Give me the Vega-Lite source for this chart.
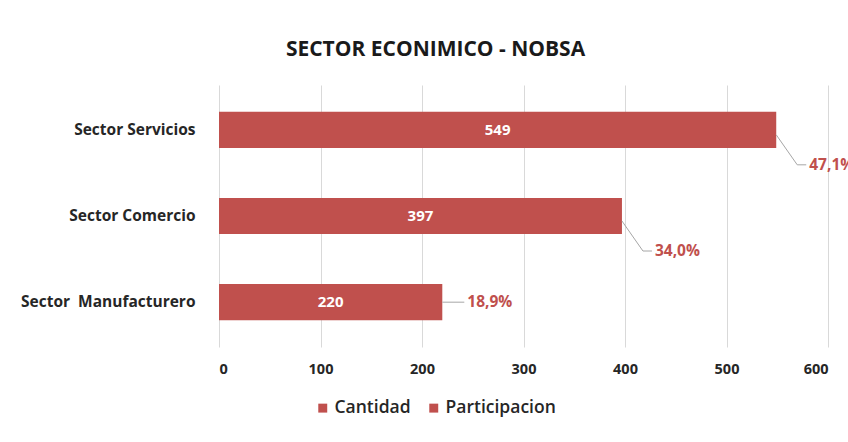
{
  "$schema": "https://vega.github.io/schema/vega-lite/v6.json",
  "width": 609,
  "height": 262,
  "autosize": "none",
  "padding": {"left": 219, "top": 85, "right": 20, "bottom": 95},
  "background": "white",
  "title": {
    "text": "SECTOR ECONIMICO - NOBSA",
    "font": "Open Sans",
    "fontSize": 21,
    "fontWeight": "bold",
    "color": "#1a1a1a",
    "dx": -88,
    "offset": 25
  },
  "config": {
    "locale": {"number": {"decimal": ",", "thousands": ".", "grouping": [3], "currency": ["$", ""]}},
    "view": {"stroke": null},
    "font": "Open Sans"
  },
  "data": {
    "values": [
      {"Sector": "Sector Servicios", "Cantidad": 549, "Participacion": 0.471},
      {"Sector": "Sector Comercio", "Cantidad": 397, "Participacion": 0.340},
      {"Sector": "Sector\u00a0 Manufacturero", "Cantidad": 220, "Participacion": 0.189}
    ]
  },
  "encoding": {
    "y": {
      "field": "Sector",
      "type": "nominal",
      "sort": null,
      "scale": {"paddingInner": 0.58, "paddingOuter": 0.31},
      "axis": {
        "title": null,
        "domain": false,
        "ticks": false,
        "labelPadding": 24,
        "labelFont": "Open Sans",
        "labelFontSize": 15.5,
        "labelFontWeight": "bold",
        "labelColor": "#262626"
      }
    }
  },
  "layer": [
    {
      "mark": {"type": "bar"},
      "encoding": {
        "x": {
          "field": "Cantidad",
          "type": "quantitative",
          "scale": {"domain": [0, 600], "nice": false},
          "axis": {
            "title": null,
            "values": [0, 100, 200, 300, 400, 500, 600],
            "grid": true,
            "gridColor": "#d9d9d9",
            "gridWidth": 1,
            "domain": false,
            "ticks": false,
            "labelPadding": 15,
            "labelFont": "Open Sans",
            "labelFontSize": 14.5,
            "labelFontWeight": "bold",
            "labelColor": "#262626"
          }
        },
        "color": {
          "datum": "Cantidad",
          "type": "nominal",
          "scale": {"domain": ["Cantidad", "Participacion"], "range": ["#C0504D", "#C0504D"]},
          "legend": {
            "title": null,
            "orient": "none",
            "legendX": 95,
            "legendY": 314,
            "direction": "horizontal",
            "symbolType": "square",
            "symbolSize": 80,
            "symbolStrokeWidth": 0,
            "labelFont": "Open Sans",
            "labelFontSize": 17.5,
            "labelFontWeight": 600,
            "labelColor": "#262626",
            "columnPadding": 14,
            "labelOffset": 3
          }
        }
      }
    },
    {
      "transform": [{"calculate": "datum.Cantidad / 2", "as": "mid"}],
      "mark": {"type": "text", "color": "white", "fontWeight": "bold", "fontSize": 15, "baseline": "middle"},
      "encoding": {
        "x": {"field": "mid", "type": "quantitative"},
        "text": {"field": "Cantidad", "type": "quantitative"}
      }
    },
    {
      "transform": [{"filter": "indexof(datum.Sector, 'Manufacturero') < 0"}],
      "mark": {"type": "rule", "color": "#a6a6a6", "strokeWidth": 1, "yOffset": 5, "y2Offset": 35, "x2Offset": 21},
      "encoding": {
        "x": {"field": "Cantidad", "type": "quantitative"},
        "x2": {"field": "Cantidad"},
        "y2": {"field": "Sector"}
      }
    },
    {
      "transform": [{"filter": "indexof(datum.Sector, 'Manufacturero') < 0"}],
      "mark": {"type": "rule", "color": "#a6a6a6", "strokeWidth": 1, "yOffset": 35, "xOffset": 21, "x2Offset": 30},
      "encoding": {
        "x": {"field": "Cantidad", "type": "quantitative"},
        "x2": {"field": "Cantidad"}
      }
    },
    {
      "transform": [{"filter": "indexof(datum.Sector, 'Manufacturero') >= 0"}],
      "mark": {"type": "rule", "color": "#a6a6a6", "strokeWidth": 1, "x2Offset": 22},
      "encoding": {
        "x": {"field": "Cantidad", "type": "quantitative"},
        "x2": {"field": "Cantidad"}
      }
    },
    {
      "transform": [{"filter": "indexof(datum.Sector, 'Manufacturero') < 0"}],
      "mark": {"type": "text", "align": "left", "baseline": "middle", "dx": 33, "dy": 35, "fontWeight": "bold", "fontSize": 15.5},
      "encoding": {
        "x": {"field": "Cantidad", "type": "quantitative"},
        "text": {"field": "Participacion", "type": "quantitative", "format": ".1%"},
        "color": {"datum": "Participacion", "type": "nominal"}
      }
    },
    {
      "transform": [{"filter": "indexof(datum.Sector, 'Manufacturero') >= 0"}],
      "mark": {"type": "text", "align": "left", "baseline": "middle", "dx": 25, "fontWeight": "bold", "fontSize": 15.5},
      "encoding": {
        "x": {"field": "Cantidad", "type": "quantitative"},
        "text": {"field": "Participacion", "type": "quantitative", "format": ".1%"},
        "color": {"datum": "Participacion", "type": "nominal"}
      }
    }
  ]
}
